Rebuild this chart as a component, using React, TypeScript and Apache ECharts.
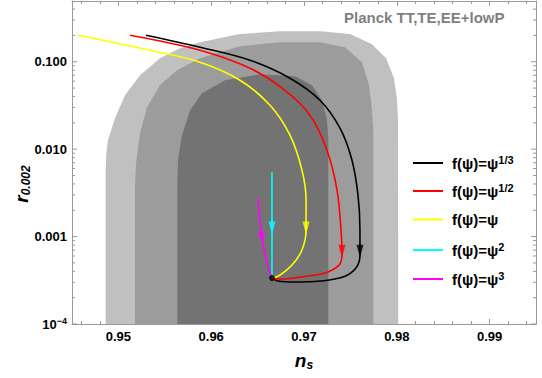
import React, { useEffect, useRef } from 'react';
import * as echarts from 'echarts';

const FONT = '"Liberation Sans", Arial, sans-serif';
const AXIS_COLOR = '#999999';

const X_MIN = 0.945;
const X_MAX = 0.995;
const Y_MIN_LOG = -4;
const Y_MAX_LOG = -0.305;

const yTickText: Record<string, string> = { '-4': '{b|10}{sup|−4}', '-3': '0.001', '-2': '0.010', '-1': '0.100' };

// Planck contours, [n_s, r]
const contourOuter: [number, number][] = [
  [0.94863, 0.0001], [0.94863, 0.00607], [0.94872, 0.0095], [0.94888, 0.01268], [0.94963, 0.02262],
  [0.95071, 0.0414], [0.95233, 0.0701], [0.95448, 0.1096], [0.95664, 0.1426], [0.95879, 0.1671],
  [0.9631, 0.2074], [0.96741, 0.2232], [0.97172, 0.2232], [0.97496, 0.2074], [0.97733, 0.1585],
  [0.97884, 0.1096], [0.9797, 0.0648], [0.98002, 0.0363], [0.98013, 0.02145], [0.98016, 0.0001],
];
const contourMiddle: [number, number][] = [
  [0.95179, 0.0001], [0.95179, 0.00388], [0.9519, 0.00692], [0.95233, 0.01524], [0.95308, 0.0302],
  [0.95448, 0.0539], [0.95631, 0.0799], [0.95879, 0.1096], [0.9631, 0.1503], [0.96741, 0.1671],
  [0.97172, 0.1671], [0.97442, 0.1465], [0.97625, 0.0987], [0.97701, 0.0539], [0.97733, 0.0279],
  [0.97747, 0.01648], [0.97747, 0.0001],
];
const contourInner: [number, number][] = [
  [0.95635, 0.0001], [0.95635, 0.00368], [0.95642, 0.00748], [0.95685, 0.01445], [0.95772, 0.0279],
  [0.95901, 0.0437], [0.96149, 0.0615], [0.96526, 0.0719], [0.96903, 0.0683], [0.97086, 0.0539],
  [0.97194, 0.0363], [0.97248, 0.02145], [0.97262, 0.01268], [0.97262, 0.0001],
];
const contourColors = ['#c0c0c0', '#9c9c9c', '#737373'];

const curveNames = ['f(ψ)=ψ1/3', 'f(ψ)=ψ1/2', 'f(ψ)=ψ', 'f(ψ)=ψ2', 'f(ψ)=ψ3'];
const legendSup = ['1/3', '1/2', '', '2', '3'];
const curveColors = ['#000000', '#ff0000', '#ffff00', '#00ffff', '#ff00ff'];

const curveBlack: [number, number][] = [
  [0.95297, 0.2009], [0.95879, 0.1466], [0.96418, 0.104], [0.96849, 0.0648], [0.97172, 0.0363],
  [0.97388, 0.01738], [0.97517, 0.00748], [0.97582, 0.00298], [0.97603, 0.001187], [0.97603, 0.000615],
  [0.9756, 0.000437], [0.9742, 0.000344], [0.97172, 0.00031], [0.96903, 0.000302], [0.9672, 0.00031],
  [0.96655, 0.000335],
];
const curveRed: [number, number][] = [
  [0.95125, 0.2009], [0.95879, 0.1353], [0.96418, 0.0842], [0.96795, 0.0472], [0.97065, 0.02446],
  [0.97248, 0.00974], [0.97356, 0.0034], [0.97399, 0.001187], [0.97409, 0.000615], [0.97377, 0.000472],
  [0.97226, 0.000383], [0.96957, 0.000344], [0.96741, 0.000327], [0.96655, 0.000335],
];
const curveYellow: [number, number][] = [
  [0.94565, 0.2009], [0.95341, 0.1353], [0.95879, 0.0987], [0.9631, 0.0615], [0.96634, 0.0318],
  [0.96849, 0.01445], [0.96978, 0.00575], [0.97022, 0.00261], [0.97022, 0.001187], [0.96978, 0.000701],
  [0.96871, 0.000472], [0.96741, 0.000363], [0.96655, 0.000335],
];
const curveCyan: [number, number][] = [
  [0.96655, 0.00546], [0.96655, 0.00125], [0.96655, 0.000335],
];
const curveMagenta: [number, number][] = [
  [0.96504, 0.00273], [0.96547, 0.000961], [0.96612, 0.00046], [0.96655, 0.000335],
];
const curves = [curveBlack, curveRed, curveYellow, curveCyan, curveMagenta];

// arrow heads: [n_s, r, rotation deg]
const arrowHeads: [number, number, number][] = [
  [0.97603, 0.00068, 0], [0.97409, 0.00068, 0], [0.97022, 0.00125, 0], [0.96655, 0.00125, 0], [0.96547, 0.00096, 6],
];
const endPoint: [number, number] = [0.96655, 0.000335];

const legendRowsY = [163, 191, 221, 250, 279];

const toXY = (p: [number, number]) => [p[0], Math.log10(p[1])];

export default function App() {
  const ref = useRef<HTMLDivElement>(null);
  useEffect(() => {
    if (!ref.current) return;
    document.body.style.margin = '0';
    const chart = echarts.init(ref.current, undefined, { renderer: 'svg' });

    const yTicks: [number, number, number][] = [];
    for (let k = -4; k <= -1; k++) {
      for (let m = 1; m <= 9; m++) {
        const v = k + Math.log10(m);
        if (v < Y_MAX_LOG) yTicks.push([X_MIN, v, m === 1 ? 5 : 3]);
      }
    }

    const polygonSeries = [contourOuter, contourMiddle, contourInner].map((c, idx) => ({
      type: 'custom',
      z: 1,
      silent: true,
      data: c.map(toXY),
      renderItem: (params: any, api: any) => {
        if (params.dataIndex !== 0) return { type: 'group', children: [] };
        const pts = c.map((p) => api.coord(toXY(p)));
        return { type: 'polygon', shape: { points: pts }, style: { fill: contourColors[idx] } };
      },
    }));

    const lineSeries = curves.map((c, i) => ({
      type: 'line',
      name: curveNames[i],
      z: 3,
      data: c.map(toXY),
      smooth: 0.35,
      showSymbol: false,
      symbol: 'none',
      lineStyle: { color: curveColors[i], width: 1.6 },
      itemStyle: { color: curveColors[i] },
    }));

    const arrowSeries = {
      type: 'scatter',
      z: 4,
      silent: true,
      symbol: 'path://M0,0 L10,0 L5,18 Z',
      symbolSize: [7, 13],
      symbolKeepAspect: false,
      data: arrowHeads.map((a, i) => ({
        value: [a[0], Math.log10(a[1])],
        symbolRotate: a[2],
        itemStyle: { color: curveColors[i] },
      })),
    };

    const dotSeries = {
      type: 'scatter',
      z: 5,
      silent: true,
      symbol: 'circle',
      symbolSize: 6,
      itemStyle: { color: '#000' },
      data: [toXY(endPoint)],
    };

    const tickSeries = {
      type: 'custom',
      z: 6,
      silent: true,
      data: yTicks,
      renderItem: (params: any, api: any) => {
        const cs = params.coordSys;
        const y = api.coord([X_MIN, api.value(1)])[1];
        const len = api.value(2);
        return {
          type: 'group',
          children: [
            { type: 'line', shape: { x1: cs.x, y1: y, x2: cs.x + len, y2: y }, style: { stroke: AXIS_COLOR, lineWidth: 1 } },
            { type: 'line', shape: { x1: cs.x + cs.width, y1: y, x2: cs.x + cs.width - len, y2: y }, style: { stroke: AXIS_COLOR, lineWidth: 1 } },
          ],
        };
      },
    };

    const legends = curveNames.map((n, i) => ({
      data: [n],
      left: 413,
      top: legendRowsY[i] - 9,
      padding: 0,
      orient: 'vertical',
      selectedMode: false,
      icon: 'rect',
      itemWidth: 30,
      itemHeight: 2,
      itemGap: 0,
      formatter: (name: string) => {
        const j = curveNames.indexOf(name);
        return legendSup[j] ? `{a|f(ψ)=ψ}{s|${legendSup[j]}}` : '{a|f(ψ)=ψ}';
      },
      textStyle: {
        padding: [0, 0, 0, 4],
        rich: {
          a: { fontFamily: FONT, fontSize: 15, fontWeight: 'bold', color: '#000', lineHeight: 18 },
          s: { fontFamily: FONT, fontSize: 11, fontWeight: 'bold', color: '#000', lineHeight: 11, verticalAlign: 'top' },
        },
      },
    }));

    const xCommon = {
      type: 'value',
      min: X_MIN,
      max: X_MAX,
      splitNumber: 5,
      splitLine: { show: false },
      axisLine: { show: true, onZero: false, lineStyle: { color: AXIS_COLOR, width: 1 } },
      axisTick: { show: true, inside: true, length: 5, lineStyle: { color: AXIS_COLOR } },
      minorTick: { show: true, splitNumber: 5, length: 3, lineStyle: { color: AXIS_COLOR } },
    };

    chart.setOption({
      animation: false,
      grid: { left: 72, right: 6, top: 1, bottom: 54, containLabel: false },
      legend: legends,
      graphic: [
        {
          type: 'text',
          left: 344,
          top: 10,
          style: { text: 'Planck TT,TE,EE+lowP', font: `bold 15px ${FONT}`, fill: '#7f7f7f' },
        },
        {
          type: 'text',
          x: 21,
          y: 184,
          rotation: Math.PI / 2,
          style: {
            text: '{r|r}{s|0.002}',
            align: 'center',
            verticalAlign: 'middle',
            rich: {
              r: { fontFamily: FONT, fontSize: 19, fontWeight: 'bold', fontStyle: 'italic', fill: '#000', lineHeight: 22 },
              s: { fontFamily: FONT, fontSize: 12, fontWeight: 'bold', fontStyle: 'italic', fill: '#000', lineHeight: 12, verticalAlign: 'bottom' },
            },
          },
        },
      ],
      xAxis: [
        {
          ...xCommon,
          position: 'bottom',
          name: '{n|n}{s|s}',
          nameLocation: 'middle',
          nameGap: 25,
          nameTextStyle: {
            rich: {
              n: { fontFamily: FONT, fontSize: 19, fontWeight: 'bold', fontStyle: 'italic', color: '#000', lineHeight: 22 },
              s: { fontFamily: FONT, fontSize: 12, fontWeight: 'bold', fontStyle: 'italic', color: '#000', lineHeight: 12, verticalAlign: 'bottom' },
            },
          },
          axisLabel: {
            show: true,
            margin: 6,
            showMinLabel: false,
            showMaxLabel: false,
            fontFamily: FONT,
            fontSize: 13,
            fontWeight: 'bold',
            color: '#000',
            formatter: (v: number) => v.toFixed(2),
          },
        },
        { ...xCommon, position: 'top', axisLabel: { show: false } },
      ],
      yAxis: [
        {
          type: 'value',
          min: Y_MIN_LOG,
          max: Y_MAX_LOG,
          interval: 1,
          position: 'left',
          splitLine: { show: false },
          axisLine: { show: true, onZero: false, lineStyle: { color: AXIS_COLOR, width: 1 } },
          axisTick: { show: false },
          axisLabel: {
            margin: 5,
            fontFamily: FONT,
            fontSize: 13,
            fontWeight: 'bold',
            color: '#000',
            formatter: (v: number) => yTickText[String(Math.round(v * 1000) / 1000)] ?? '',
            rich: {
              b: { fontFamily: FONT, fontSize: 13, fontWeight: 'bold', color: '#000', lineHeight: 16 },
              sup: { fontFamily: FONT, fontSize: 9, fontWeight: 'bold', color: '#000', lineHeight: 9, verticalAlign: 'top' },
            },
          },
        },
        {
          type: 'value',
          min: Y_MIN_LOG,
          max: Y_MAX_LOG,
          interval: 1,
          position: 'right',
          splitLine: { show: false },
          axisLine: { show: true, onZero: false, lineStyle: { color: AXIS_COLOR, width: 1 } },
          axisTick: { show: false },
          axisLabel: { show: false },
        },
      ],
      series: [...polygonSeries, ...lineSeries, arrowSeries, dotSeries, tickSeries],
    });
    return () => chart.dispose();
  }, []);
  return <div ref={ref} style={{ width: 542, height: 378, position: 'absolute', left: 0, top: 0 }} />;
}
